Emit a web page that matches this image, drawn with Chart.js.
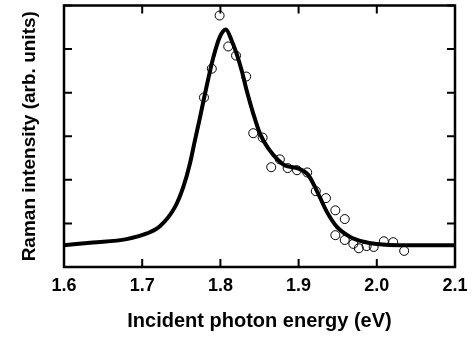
<!DOCTYPE html>
<html>
<head>
<meta charset="utf-8">
<script src="https://cdn.jsdelivr.net/npm/chart.js@4/dist/chart.umd.min.js"></script>
<style>
  html, body { margin: 0; padding: 0; background: #fff; }
  canvas { display: block; }
</style>
</head>
<body>
<canvas id="c" width="473" height="337"></canvas>
<script>
// fitted curve (solid line)
const curveX = [1.600, 1.637, 1.680, 1.706, 1.723, 1.742, 1.7526, 1.761, 1.7675, 1.774, 1.7794, 1.791, 1.799,
                1.807, 1.8145, 1.8208, 1.8272, 1.8336, 1.842, 1.8506, 1.8612, 1.874, 1.8826, 1.898, 1.912,
                1.923, 1.936, 1.949, 1.966, 1.983, 2.000, 2.030, 2.100];
const curveY = [0.50, 0.56, 0.64, 0.77, 0.94, 1.38, 1.84, 2.37, 2.91, 3.44, 3.90, 4.81, 5.27,
                5.45, 5.19, 4.89, 4.51, 4.05, 3.52, 3.06, 2.72, 2.45, 2.33, 2.27, 2.12,
                1.76, 1.27, 0.92, 0.69, 0.58, 0.53, 0.50, 0.50];

// measured points (open circles)
const obsX = [1.779, 1.789, 1.799, 1.810, 1.820, 1.833, 1.842, 1.854, 1.865, 1.876, 1.886, 1.898, 1.911,
              1.922, 1.935, 1.947, 1.959, 1.947, 1.959, 1.970, 1.977, 1.987, 1.996, 2.009, 2.021, 2.035];
const obsY = [3.89, 4.55, 5.77, 5.06, 4.85, 4.37, 3.07, 2.97, 2.29, 2.47, 2.27, 2.22, 2.17,
              1.74, 1.58, 1.30, 1.10, 0.73, 0.62, 0.53, 0.43, 0.48, 0.46, 0.59, 0.57, 0.37];

const xTicks = [1.6, 1.7, 1.8, 1.9, 2.0, 2.1];
const xTickLabels = ['1.6', '1.7', '1.8', '1.9', '2.0', '2.1'];
const yTicks = [0, 1, 2, 3, 4, 5, 6];

const FONT = '"Liberation Sans", Arial, Helvetica, sans-serif';

// frame + inward ticks on all four sides
const framePlugin = {
  id: 'frame',
  afterDraw(chart) {
    const { ctx, chartArea: a, scales } = chart;
    const len = 8;
    ctx.save();
    ctx.strokeStyle = '#000';
    ctx.lineWidth = 2;
    ctx.beginPath();
    xTicks.forEach(v => {
      const px = scales.x.getPixelForValue(v);
      ctx.moveTo(px, a.bottom); ctx.lineTo(px, a.bottom - len);
      ctx.moveTo(px, a.top); ctx.lineTo(px, a.top + len);
    });
    yTicks.forEach(v => {
      const py = scales.y.getPixelForValue(v);
      ctx.moveTo(a.left, py); ctx.lineTo(a.left + len, py);
      ctx.moveTo(a.right, py); ctx.lineTo(a.right - len, py);
    });
    ctx.stroke();
    ctx.lineWidth = 2.5;
    ctx.strokeRect(a.left, a.top, a.right - a.left, a.bottom - a.top);
    ctx.restore();
  }
};

new Chart(document.getElementById('c'), {
  type: 'scatter',
  data: {
    datasets: [
      {
        label: 'fit',
        data: curveX.map((x, i) => ({ x, y: curveY[i] })),
        showLine: true,
        borderColor: '#000',
        borderWidth: 4,
        pointRadius: 0,
        cubicInterpolationMode: 'monotone',
        order: 0
      },
      {
        label: 'data',
        data: obsX.map((x, i) => ({ x, y: obsY[i] })),
        pointRadius: 4.5,
        pointBorderWidth: 1,
        pointBorderColor: '#000',
        pointBackgroundColor: 'rgba(0,0,0,0)',
        order: 1
      }
    ]
  },
  options: {
    responsive: false,
    animation: false,
    devicePixelRatio: 1,
    layout: { padding: { top: 5, right: 18, left: 0, bottom: 0 } },
    plugins: { legend: { display: false }, tooltip: { enabled: false } },
    scales: {
      x: {
        type: 'linear',
        min: 1.6, max: 2.1,
        afterFit: s => { s.height = 70; },
        afterBuildTicks: s => { s.ticks = xTicks.map(v => ({ value: v })); },
        grid: { display: false },
        border: { display: false },
        ticks: {
          padding: 0,
          color: '#000',
          font: { family: FONT, size: 18, weight: 'bold' },
          callback: (v, i) => xTickLabels[i]
        },
        title: {
          display: true,
          text: 'Incident photon energy (eV)',
          color: '#000',
          font: { family: FONT, size: 20, weight: 'bold' },
          padding: { top: 4, bottom: 4 }
        }
      },
      y: {
        min: 0, max: 6,
        afterFit: s => { s.width = 64; },
        grid: { display: false },
        border: { display: false },
        ticks: { display: false },
        title: {
          display: true,
          text: 'Raman intensity (arb. units)',
          color: '#000',
          font: { family: FONT, size: 19, weight: 'bold' },
          padding: { top: 18, bottom: 18 }
        }
      }
    }
  },
  plugins: [framePlugin]
});
</script>
</body>
</html>
